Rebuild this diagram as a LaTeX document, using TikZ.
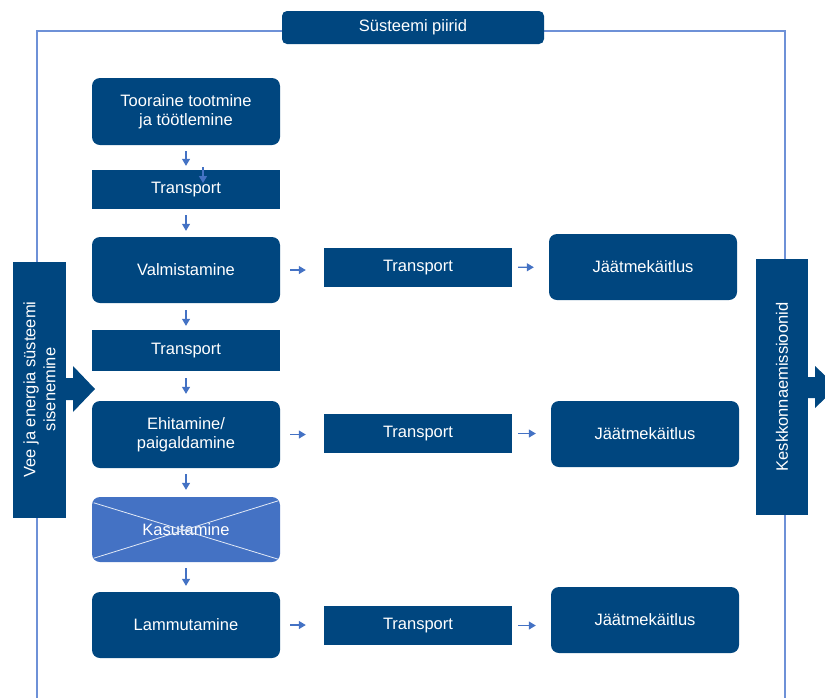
\documentclass[tikz,border=0pt]{standalone}
\usepackage{fontspec}
\setmainfont{Liberation Sans}
\usetikzlibrary{arrows.meta}
\definecolor{dblue}{RGB}{0,70,127}
\definecolor{lblue}{RGB}{68,114,196}
\definecolor{bline}{RGB}{110,145,215}
\begin{document}
\begin{tikzpicture}[x=1pt,y=-1pt,
  box/.style={fill=dblue,text=white,minimum width=188pt,align=center,
    font=\fontsize{16.5}{19.5}\selectfont},
  phase/.style={box,rounded corners=8pt,minimum height=66pt},
  trans/.style={box,minimum height=39pt},
  flow/.style={draw=lblue,line width=1.2pt,-{Triangle[length=7pt,width=8pt]}},
  side/.style={fill=dblue,text=white,minimum width=256pt,minimum height=53pt,
    align=center,font=\fontsize{16.5}{20}\selectfont},
  ]
\useasboundingbox (0,0) rectangle (825,697);
% system boundary
\draw[bline,line width=1.1pt] (37,700) -- (37,31) -- (785,31) -- (785,700);
\node[box,rounded corners=5pt,minimum width=262pt,minimum height=33pt] (title) at (413,27.5) {Süsteemi piirid};

% main chain
\node[phase,minimum height=67pt] (too) at (186,111.5) {Tooraine tootmine\\ja töötlemine};
\node[trans] (tr1) at (186,189.5) {Transport};
\node[phase] (val) at (186,270) {Valmistamine};
\node[trans,minimum height=41pt] (tr2) at (186,350.5) {Transport};
\node[phase,minimum height=67pt] (ehi) at (186,434.5) {Ehitamine/\\paigaldamine};
\node[phase,fill=lblue,minimum height=65pt] (kas) at (186,529.5) {Kasutamine};
\node[phase] (lam) at (186,625) {Lammutamine};
\draw[white!85!lblue,line width=0.8pt] ([shift={(2,6)}]kas.north west) -- ([shift={(-2,-3)}]kas.south east);
\draw[white!85!lblue,line width=0.8pt] ([shift={(2,-4)}]kas.south west) -- ([shift={(-2,4)}]kas.north east);

% side branches
\node[trans] (trA) at (418,267.5) {Transport};
\node[phase] (jaA) at (643,267) {Jäätmekäitlus};
\node[trans] (trB) at (418,433.5) {Transport};
\node[phase] (jaB) at (645,434) {Jäätmekäitlus};
\node[trans] (trC) at (418,625.5) {Transport};
\node[phase] (jaC) at (645,620) {Jäätmekäitlus};

% inputs and outputs
\node[side,rotate=90] (in) at (39.5,389.5) {Vee ja energia süsteemi\\sisenemine};
\node[side,rotate=90,minimum height=52pt] (out) at (782,387) {Keskkonnaemissioonid};
\fill[dblue] (66,378) -- (73,378) -- (73,366) -- (95,389) -- (73,412) -- (73,400) -- (66,400) -- cycle;
\fill[dblue] (808,377) -- (815,377) -- (815,366) -- (837,387) -- (815,408) -- (815,398) -- (808,398) -- cycle;

% arrows
\draw[flow,shorten <=6pt,shorten >=4pt] (too) -- (tr1);
\draw[flow,shorten <=6pt,shorten >=6pt] (tr1) -- (val);
\draw[flow,shorten <=7pt,shorten >=4pt] (val) -- (tr2);
\draw[flow,shorten <=7pt,shorten >=7pt] (tr2) -- (ehi);
\draw[flow,shorten <=6pt,shorten >=7pt] (ehi) -- (kas);
\draw[flow,shorten <=6pt,shorten >=6pt] (kas) -- (lam);
\draw[flow,shorten <=10pt,shorten >=18pt] (val.east) -- (val.east -| trA.west);
\draw[flow,shorten <=6pt,shorten >=15pt] (trA) -- (jaA);
\draw[flow,shorten <=10pt,shorten >=18pt] (ehi.east) -- (ehi.east -| trB.west);
\draw[flow,shorten <=6pt,shorten >=15pt] (trB.east) -- (trB.east -| jaB.west);
\draw[flow,shorten <=10pt,shorten >=18pt] (lam.east) -- (lam.east -| trC.west);
\draw[flow,shorten <=6pt,shorten >=15pt] (trC.east) -- (trC.east -| jaC.west);
\coordinate (s1) at (203,167);
\coordinate (s2) at (203,183);
\draw[flow] (s1) -- (s2);
\end{tikzpicture}
\end{document}
